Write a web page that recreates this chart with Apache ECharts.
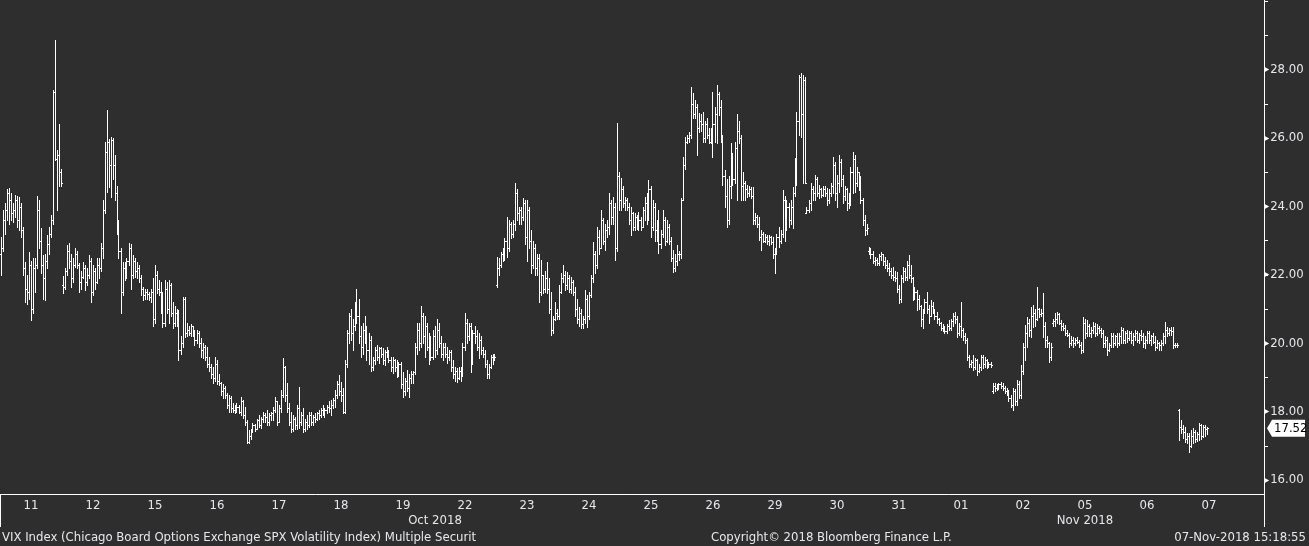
<!DOCTYPE html>
<html><head><meta charset="utf-8">
<script src="https://cdn.jsdelivr.net/npm/echarts@6.0.0/dist/echarts.min.js"></script>
<style>html,body{margin:0;padding:0;background:#2e2e2e;}#c{width:1309px;height:546px;}</style>
</head><body><div id="c"></div>
<script>
// ---- data ----
const dayLabels = ['11','12','15','16','17','18','19','22','23','24','25','26','29','30','31','01','02','05','06','07'];
const monthLabels = ['Oct 2018','Nov 2018'];
const yLabelValues = [16,18,20,22,24,26,28];
const yTickValues = [16,17,18,19,20,21,22,23,24,25,26,27,28,29,30];
const lastPrice = 17.52;
const titleText = 'VIX Index (Chicago Board Options Exchange SPX Volatility Index) Multiple Securit';
const copyrightText = 'Copyright\u00a9 2018 Bloomberg Finance L.P.';
const stampText = '07-Nov-2018 15:18:55';
// [open, high, low, close], 31 bars per trading day
const ohlc = [
// Oct 11
[22.6,23.1,22.0,22.8],[22.8,23.9,22.7,23.6],[23.6,24.1,23.2,23.9],[23.9,24.5,23.6,24.4],[24.4,24.55,23.5,24.2],[24.2,24.4,23.6,23.8],[23.8,24.1,23.55,23.9],[23.9,24.35,23.7,24.2],[24.2,24.3,23.4,23.6],[23.6,24.28,23.3,24.0],[24.0,24.1,23.1,23.3],[23.3,23.4,22.0,22.2],[22.2,22.37,21.2,21.6],[21.6,22.0,21.15,21.5],[21.5,22.67,21.3,22.3],[22.3,22.4,20.68,21.0],[21.0,22.5,20.9,22.2],[22.2,22.5,21.5,22.3],[22.3,24.3,22.2,23.9],[23.9,24.2,22.8,23.0],[23.0,23.37,22.05,22.3],[22.3,22.58,21.3,21.9],[21.9,22.6,21.27,22.4],[22.4,23.17,22.2,22.9],[22.9,23.4,22.6,23.2],[23.2,23.75,23.1,23.6],[23.6,27.4,23.5,27.35],[27.35,28.87,25.36,25.4],[25.4,25.65,23.9,25.5],[25.5,26.4,24.6,25.0],[25.0,25.1,24.6,24.7],
// Oct 12
[21.7,21.97,21.47,21.65],[21.65,22.2,21.6,22.1],[22.1,22.87,22.0,22.7],[22.7,22.93,22.2,22.4],[22.4,22.6,21.65,21.9],[21.9,22.5,21.8,22.3],[22.3,22.79,22.23,22.6],[22.6,22.7,22.2,22.3],[22.3,22.35,21.5,21.8],[21.8,22.1,21.6,21.95],[21.95,22.37,21.9,22.2],[22.2,22.3,21.56,21.8],[21.8,22.2,21.7,22.0],[22.0,22.58,21.9,22.4],[22.4,22.5,21.2,21.5],[21.5,22.3,21.4,22.1],[22.1,22.2,21.6,21.8],[21.8,22.49,21.76,22.3],[22.3,22.5,21.9,22.2],[22.2,22.93,22.1,22.8],[22.8,24.2,22.5,23.9],[23.9,25.9,23.8,25.6],[25.6,26.82,24.42,25.9],[25.9,25.97,24.57,25.2],[25.2,26.03,24.28,25.95],[25.95,26.0,24.8,25.2],[25.2,25.5,24.2,24.4],[24.4,24.6,23.2,23.5],[23.5,23.6,22.5,22.7],[22.7,22.8,20.9,21.5],[21.5,22.37,21.4,22.2],
// Oct 15
[22.2,22.37,21.85,22.0],[22.0,22.5,21.9,22.4],[22.4,22.93,22.3,22.8],[22.8,22.9,21.6,22.0],[22.0,22.58,21.9,22.4],[22.4,22.5,21.94,22.1],[22.1,22.37,21.9,22.2],[22.2,22.3,21.8,21.9],[21.9,22.0,21.4,21.6],[21.6,21.65,21.27,21.4],[21.4,21.6,21.3,21.5],[21.5,21.6,21.3,21.45],[21.45,21.5,21.27,21.35],[21.35,21.6,21.2,21.5],[21.5,21.9,20.5,20.7],[20.7,22.29,20.6,22.0],[22.0,22.1,21.47,21.6],[21.6,21.85,21.4,21.5],[21.5,21.8,20.9,21.1],[21.1,21.5,20.47,20.6],[20.6,21.85,20.5,21.6],[21.6,21.8,20.9,21.0],[21.0,21.85,20.6,21.7],[21.7,21.75,20.8,20.9],[20.9,21.2,20.45,20.6],[20.6,21.1,20.5,20.9],[20.9,21.0,20.5,20.6],[20.6,20.97,19.5,19.8],[19.8,20.2,19.7,20.0],[20.0,21.36,19.9,21.3],[21.3,21.35,20.18,20.3],
// Oct 16
[20.3,20.6,20.2,20.4],[20.4,20.5,20.25,20.3],[20.3,20.55,20.2,20.5],[20.5,20.5,20.2,20.3],[20.3,20.4,19.95,20.1],[20.1,20.39,20.0,20.3],[20.3,20.35,19.9,20.0],[20.0,20.15,19.6,19.8],[19.8,20.0,19.57,19.9],[19.9,19.95,19.5,19.6],[19.6,19.9,19.3,19.4],[19.4,19.6,19.2,19.3],[19.3,19.4,19.0,19.1],[19.1,19.3,18.85,19.0],[19.0,19.6,18.9,19.4],[19.4,19.5,18.8,18.9],[18.9,19.1,18.78,18.85],[18.85,18.87,18.5,18.6],[18.6,18.8,18.4,18.7],[18.7,18.75,18.4,18.5],[18.5,18.55,18.1,18.2],[18.2,18.5,18.0,18.4],[18.4,18.45,17.99,18.1],[18.1,18.25,17.98,18.05],[18.05,18.2,17.96,18.1],[18.1,18.25,18.0,18.15],[18.15,18.2,17.96,18.0],[18.0,18.43,17.9,18.3],[18.3,18.35,17.82,17.9],[17.9,18.14,17.6,17.7],[17.7,17.75,17.08,17.1],
// Oct 17
[17.1,17.47,17.08,17.3],[17.3,17.5,17.2,17.45],[17.45,17.67,17.41,17.6],[17.6,17.65,17.45,17.5],[17.5,17.8,17.5,17.75],[17.75,17.9,17.55,17.6],[17.6,17.85,17.52,17.8],[17.8,17.99,17.7,17.9],[17.9,17.95,17.7,17.85],[17.85,18.05,17.6,17.7],[17.7,17.95,17.6,17.9],[17.9,18.0,17.75,17.95],[17.95,18.14,17.76,18.05],[18.05,18.43,17.99,18.3],[18.3,18.3,17.6,17.7],[17.7,18.2,17.7,18.1],[18.1,18.63,18.0,18.5],[18.5,19.57,18.43,19.3],[19.3,19.35,18.3,18.5],[18.5,18.84,17.99,18.1],[18.1,18.25,17.6,17.7],[17.7,18.0,17.41,17.5],[17.5,17.9,17.45,17.8],[17.8,17.85,17.5,17.6],[17.6,18.2,17.5,18.1],[18.1,18.72,17.52,17.7],[17.7,18.0,17.6,17.9],[17.9,18.1,17.4,17.5],[17.5,17.8,17.45,17.7],[17.7,17.9,17.5,17.6],[17.6,18.0,17.55,17.9],
// Oct 18
[17.9,18.0,17.6,17.7],[17.7,17.9,17.6,17.85],[17.85,17.95,17.7,17.8],[17.8,18.0,17.75,17.95],[17.95,18.05,17.8,17.9],[17.9,18.1,17.85,18.05],[18.05,18.2,17.9,18.0],[18.0,18.1,17.85,18.05],[18.05,18.2,17.95,18.15],[18.15,18.3,18.0,18.1],[18.1,18.34,17.9,18.2],[18.2,18.4,18.1,18.35],[18.35,18.63,18.14,18.5],[18.5,18.9,18.4,18.8],[18.8,19.07,18.5,18.6],[18.6,18.87,18.3,18.5],[18.5,18.7,17.96,18.0],[18.0,19.5,17.96,19.4],[19.4,20.4,19.3,20.3],[20.3,20.9,20.0,20.8],[20.8,21.0,20.1,20.3],[20.3,20.7,19.8,20.5],[20.5,21.2,20.4,21.1],[21.1,21.6,20.6,20.8],[20.8,21.3,20.0,20.2],[20.2,20.5,19.6,19.9],[19.9,20.6,19.7,20.4],[20.4,20.8,20.0,20.2],[20.2,20.5,19.5,19.8],[19.8,20.3,19.4,20.1],[20.1,20.2,19.2,19.3],
// Oct 19
[19.3,19.6,19.22,19.5],[19.5,19.9,19.4,19.8],[19.8,19.95,19.5,19.6],[19.6,19.9,19.42,19.85],[19.85,19.9,19.6,19.7],[19.7,19.85,19.4,19.5],[19.5,19.8,19.37,19.75],[19.75,19.9,19.6,19.7],[19.7,19.8,19.45,19.5],[19.5,19.6,19.2,19.3],[19.3,19.6,19.13,19.5],[19.5,19.55,19.2,19.3],[19.3,19.5,19.02,19.1],[19.1,19.45,19.05,19.4],[19.4,19.45,18.7,18.8],[18.8,19.16,18.43,18.6],[18.6,19.0,18.5,18.9],[18.9,19.22,18.6,18.7],[18.7,19.1,18.43,19.0],[19.0,19.2,18.85,19.1],[19.1,19.2,18.84,19.15],[19.15,20.0,19.1,19.9],[19.9,20.6,19.7,20.4],[20.4,20.6,19.8,20.0],[20.0,21.1,19.9,20.8],[20.8,20.9,20.0,20.2],[20.2,20.8,19.6,20.5],[20.5,20.6,19.8,19.9],[19.9,20.3,19.4,20.1],[20.1,20.2,19.5,19.6],[19.6,20.4,19.55,20.2],
// Oct 22
[20.2,20.5,19.6,19.8],[19.8,20.7,19.7,20.4],[20.4,20.6,19.9,20.0],[20.0,20.2,19.6,19.7],[19.7,20.0,19.5,19.9],[19.9,20.0,19.6,19.7],[19.7,19.9,19.42,19.6],[19.6,19.8,19.5,19.75],[19.75,19.8,19.2,19.3],[19.3,19.5,19.0,19.1],[19.1,19.3,18.9,19.2],[19.2,19.28,18.87,19.0],[19.0,19.3,18.95,19.2],[19.2,19.3,18.9,19.1],[19.1,20.0,19.05,19.9],[19.9,20.9,19.8,20.6],[20.6,20.7,20.0,20.2],[20.2,20.6,20.1,20.5],[20.5,20.6,19.16,19.5],[19.5,20.4,19.4,20.3],[20.3,20.5,20.0,20.2],[20.2,20.4,19.8,19.9],[19.9,20.3,19.57,20.1],[20.1,20.2,19.7,19.8],[19.8,19.9,19.6,19.7],[19.7,19.8,19.3,19.4],[19.4,19.5,18.98,19.1],[19.1,19.4,19.0,19.3],[19.3,19.66,19.28,19.6],[19.6,19.7,19.4,19.65],[19.65,19.7,19.5,19.6],
// Oct 23
[21.7,22.52,21.65,22.2],[22.2,22.5,22.0,22.3],[22.3,22.67,22.23,22.6],[22.6,22.8,22.4,22.5],[22.5,23.07,22.43,23.0],[23.0,23.7,22.52,22.8],[22.8,23.6,22.7,23.5],[23.5,23.55,23.07,23.2],[23.2,23.6,23.1,23.5],[23.5,24.68,23.3,24.4],[24.4,24.5,23.6,23.8],[23.8,23.99,23.5,23.9],[23.9,24.0,23.5,23.7],[23.7,24.25,23.6,24.1],[24.1,24.2,22.9,23.1],[23.1,24.19,22.4,23.9],[23.9,24.0,22.8,23.0],[23.0,23.3,22.05,22.3],[22.3,23.0,22.2,22.8],[22.8,22.9,22.0,22.2],[22.2,22.6,22.0,22.5],[22.5,22.6,21.2,21.5],[21.5,22.43,21.4,22.0],[22.0,22.0,21.47,21.6],[21.6,22.1,21.5,21.9],[21.9,22.37,21.47,21.6],[21.6,21.9,20.9,21.0],[21.0,21.5,20.24,20.4],[20.4,20.8,20.3,20.7],[20.7,21.2,20.68,20.9],[20.9,21.0,20.7,20.8],
// Oct 24
[20.8,21.7,20.7,21.5],[21.5,22.05,21.47,21.9],[21.9,22.29,21.8,22.0],[22.0,22.1,21.56,21.7],[21.7,22.08,21.6,21.9],[21.9,22.0,21.5,21.6],[21.6,21.95,21.47,21.8],[21.8,21.85,21.4,21.5],[21.5,21.65,20.8,21.0],[21.0,21.3,20.6,20.7],[20.7,21.06,20.5,20.9],[20.9,21.0,20.45,20.55],[20.55,20.8,20.45,20.7],[20.7,21.56,20.6,21.3],[21.3,21.4,20.47,20.8],[20.8,21.5,20.7,21.4],[21.4,22.0,21.36,21.9],[21.9,22.96,21.8,22.6],[22.6,22.7,22.05,22.3],[22.3,23.4,22.2,23.1],[23.1,23.3,22.6,22.8],[22.8,23.9,22.79,23.6],[23.6,23.66,22.9,23.0],[23.0,23.5,22.73,23.3],[23.3,23.6,23.1,23.4],[23.4,24.4,23.2,24.1],[24.1,24.2,23.5,23.7],[23.7,24.28,23.5,24.0],[24.0,24.1,22.43,22.8],[22.8,26.44,22.7,24.9],[24.9,25.0,23.9,24.2],
// Oct 25
[24.2,24.83,23.9,24.5],[24.5,24.6,24.0,24.1],[24.1,24.28,23.9,24.2],[24.2,24.25,23.9,24.0],[24.0,24.1,23.5,23.6],[23.6,24.0,23.17,23.8],[23.8,23.85,23.3,23.4],[23.4,23.8,23.31,23.7],[23.7,23.75,23.35,23.5],[23.5,23.84,23.3,23.6],[23.6,23.7,23.3,23.4],[23.4,24.0,23.4,23.9],[23.9,24.28,23.6,24.1],[24.1,24.4,23.5,23.7],[23.7,24.77,23.6,24.5],[24.5,24.6,23.1,23.4],[23.4,24.19,23.3,24.0],[24.0,24.1,23.0,23.3],[23.3,23.6,23.0,23.5],[23.5,23.9,22.64,22.9],[22.9,23.3,22.8,23.2],[23.2,23.9,23.1,23.6],[23.6,23.7,22.87,23.0],[23.0,23.6,22.96,23.4],[23.4,23.5,22.9,23.0],[23.0,23.1,22.4,22.5],[22.5,22.73,22.08,22.2],[22.2,22.6,22.1,22.4],[22.4,22.87,22.3,22.6],[22.6,22.7,22.43,22.6],[22.6,24.25,22.5,24.2],
// Oct 26
[24.2,25.45,24.2,25.2],[25.2,26.03,25.1,25.9],[25.9,26.1,25.85,26.0],[26.0,26.17,25.89,26.1],[26.1,27.5,26.0,27.0],[27.0,27.32,26.6,26.7],[26.7,27.1,26.59,26.9],[26.9,27.0,25.5,26.3],[26.3,26.73,26.17,26.5],[26.5,26.7,26.2,26.4],[26.4,26.76,25.9,26.0],[26.0,26.5,25.89,26.4],[26.4,26.6,26.0,26.1],[26.1,26.3,25.85,25.9],[25.9,26.3,25.85,26.2],[26.2,27.35,25.45,26.4],[26.4,26.9,25.9,26.7],[26.7,27.55,25.85,27.3],[27.3,27.35,26.68,26.9],[26.9,27.1,25.9,26.0],[26.0,26.1,24.63,24.9],[24.9,25.07,24.0,24.3],[24.3,24.8,23.4,23.6],[23.6,24.9,23.5,24.6],[24.6,25.85,24.25,25.4],[25.4,25.56,24.63,24.8],[24.8,25.9,24.7,25.7],[25.7,26.7,24.19,26.2],[26.2,26.5,25.85,26.0],[26.0,26.1,24.19,24.6],[24.6,25.0,24.2,24.7],
// Oct 29
[24.7,24.75,24.2,24.5],[24.5,24.63,24.28,24.4],[24.4,24.6,24.3,24.5],[24.5,24.57,24.25,24.3],[24.3,24.57,23.5,23.6],[23.6,23.8,23.5,23.7],[23.7,23.75,23.4,23.5],[23.5,23.7,23.02,23.1],[23.1,23.3,22.73,23.2],[23.2,23.25,22.96,23.0],[23.0,23.2,22.96,23.1],[23.1,23.17,22.9,23.0],[23.0,23.17,22.87,23.1],[23.1,23.15,22.9,22.95],[22.95,23.1,22.5,22.6],[22.6,22.8,22.05,22.7],[22.7,23.2,22.6,23.1],[23.1,23.4,22.82,23.0],[23.0,23.3,22.93,23.2],[23.2,24.48,23.1,24.2],[24.2,24.3,23.0,23.3],[23.3,24.19,23.3,24.0],[24.0,24.1,23.4,23.6],[23.6,24.2,23.5,24.0],[24.0,24.57,23.37,24.4],[24.4,25.42,24.3,25.2],[25.2,26.76,24.63,26.5],[26.5,27.84,26.1,27.8],[27.8,27.9,26.03,26.7],[26.7,27.84,24.68,27.7],[27.7,27.8,24.7,24.7],
// Oct 30
[23.8,24.0,23.8,23.9],[23.9,24.19,23.84,24.1],[24.1,24.68,23.9,24.5],[24.5,24.6,24.2,24.4],[24.4,24.92,24.19,24.8],[24.8,24.85,24.3,24.4],[24.4,24.63,24.25,24.5],[24.5,24.54,24.28,24.35],[24.35,24.6,24.3,24.5],[24.5,24.6,24.3,24.4],[24.4,24.54,24.04,24.2],[24.2,24.5,24.1,24.4],[24.4,24.7,24.3,24.6],[24.6,25.45,24.4,25.2],[25.2,25.3,24.2,24.4],[24.4,24.92,23.99,24.7],[24.7,25.5,24.42,25.3],[25.3,25.4,24.6,24.8],[24.8,24.92,24.1,24.3],[24.3,24.6,24.2,24.5],[24.5,24.54,23.9,24.1],[24.1,24.4,23.95,24.3],[24.3,25.16,24.04,25.0],[25.0,25.6,24.4,25.4],[25.4,25.5,24.42,24.7],[24.7,25.16,24.6,25.0],[25.0,25.0,24.48,24.8],[24.8,24.9,24.1,24.2],[24.2,24.25,23.46,23.6],[23.6,23.75,23.17,23.3],[23.3,23.5,23.2,23.37],
// Oct 31
[22.7,22.82,22.6,22.7],[22.7,22.79,22.5,22.6],[22.6,22.7,22.35,22.4],[22.4,22.52,22.3,22.45],[22.45,22.5,22.29,22.35],[22.35,22.6,22.3,22.55],[22.55,22.67,22.43,22.6],[22.6,22.6,22.3,22.4],[22.4,22.52,22.2,22.3],[22.3,22.43,22.1,22.2],[22.2,22.35,22.0,22.1],[22.1,22.2,21.9,22.0],[22.0,22.23,21.85,21.95],[21.95,22.1,21.82,21.9],[21.9,22.08,21.5,21.6],[21.6,21.7,21.18,21.3],[21.3,22.0,21.2,21.9],[21.9,22.23,21.8,22.1],[22.1,22.2,21.85,21.95],[21.95,22.4,21.85,22.3],[22.3,22.58,21.9,22.0],[22.0,22.29,21.8,21.9],[21.9,21.95,21.27,21.4],[21.4,21.65,21.3,21.5],[21.5,21.56,20.97,21.3],[21.3,21.4,21.0,21.1],[21.1,21.12,20.5,20.7],[20.7,21.0,20.45,20.9],[20.9,21.3,20.88,21.2],[21.2,21.5,20.9,21.0],[21.0,21.12,20.6,20.8],
// Nov 01
[20.8,21.27,20.8,21.1],[21.1,21.2,20.88,20.95],[20.95,21.0,20.7,20.8],[20.8,20.92,20.6,20.7],[20.7,20.75,20.54,20.6],[20.6,20.62,20.4,20.45],[20.45,20.55,20.35,20.4],[20.4,20.5,20.3,20.35],[20.35,20.55,20.3,20.5],[20.5,20.68,20.39,20.45],[20.45,20.7,20.4,20.65],[20.65,20.88,20.5,20.8],[20.8,20.92,20.6,20.7],[20.7,20.8,20.18,20.3],[20.3,20.6,20.25,20.5],[20.5,21.2,20.18,20.4],[20.4,20.45,20.1,20.2],[20.2,20.3,20.0,20.1],[20.1,20.15,19.5,19.6],[19.6,19.66,19.3,19.4],[19.4,19.5,19.3,19.45],[19.45,19.66,19.22,19.3],[19.3,19.57,19.25,19.5],[19.5,19.55,19.07,19.2],[19.2,19.4,19.15,19.3],[19.3,19.66,19.22,19.6],[19.6,19.65,19.28,19.4],[19.4,19.6,19.3,19.5],[19.5,19.55,19.28,19.3],[19.3,19.45,19.3,19.4],[19.4,19.45,19.3,19.38],
// Nov 02
[18.6,18.84,18.55,18.75],[18.75,18.84,18.6,18.7],[18.7,18.8,18.63,18.75],[18.75,18.84,18.65,18.8],[18.8,18.87,18.7,18.75],[18.75,18.85,18.63,18.7],[18.7,18.75,18.55,18.6],[18.6,18.7,18.5,18.55],[18.55,18.63,18.3,18.4],[18.4,18.5,18.14,18.2],[18.2,18.7,18.05,18.6],[18.6,18.65,18.2,18.3],[18.3,18.93,18.2,18.8],[18.8,18.9,18.4,18.5],[18.5,19.37,18.4,19.2],[19.2,20.0,19.1,19.9],[19.9,20.53,19.5,20.3],[20.3,20.77,19.9,20.6],[20.6,20.7,20.2,20.4],[20.4,21.06,20.18,20.8],[20.8,21.12,20.47,20.9],[20.9,21.0,20.5,20.7],[20.7,21.65,20.68,21.0],[21.0,21.03,20.77,20.85],[20.85,21.0,20.8,20.9],[20.9,21.47,20.18,20.5],[20.5,20.62,19.9,20.1],[20.1,20.2,19.9,20.0],[20.0,20.04,19.45,19.6],[19.6,20.0,19.5,19.9],[20.6,20.7,20.5,20.65],
// Nov 05
[20.65,20.88,20.5,20.7],[20.7,20.92,20.6,20.85],[20.85,20.9,20.55,20.6],[20.6,20.68,20.4,20.5],[20.5,20.6,20.39,20.45],[20.45,20.53,20.24,20.3],[20.3,20.4,20.2,20.25],[20.25,20.3,19.9,20.0],[20.0,20.2,19.95,20.1],[20.1,20.18,19.9,20.0],[20.0,20.15,19.95,20.1],[20.1,20.18,20.0,20.05],[20.05,20.1,19.9,19.95],[19.95,20.04,19.71,19.8],[19.8,20.77,19.75,20.6],[20.6,20.7,20.15,20.3],[20.3,20.68,20.2,20.5],[20.5,20.55,20.2,20.3],[20.3,20.47,20.18,20.4],[20.4,20.62,20.3,20.5],[20.5,20.6,20.2,20.3],[20.3,20.55,20.25,20.45],[20.45,20.5,20.3,20.4],[20.4,20.45,20.18,20.3],[20.3,20.39,19.9,20.0],[20.0,20.2,19.9,20.1],[20.1,20.18,19.66,19.8],[19.8,20.0,19.78,19.95],[19.95,20.3,19.9,20.2],[20.2,20.3,19.9,20.0],[20.0,20.25,19.95,20.2],
// Nov 06
[20.2,20.3,19.9,20.0],[20.0,20.3,19.95,20.2],[20.2,20.47,20.0,20.4],[20.4,20.45,20.0,20.1],[20.1,20.35,20.0,20.3],[20.3,20.4,20.05,20.15],[20.15,20.35,20.1,20.3],[20.3,20.35,20.0,20.1],[20.1,20.3,19.95,20.2],[20.2,20.4,20.1,20.3],[20.3,20.35,20.05,20.1],[20.1,20.3,20.0,20.25],[20.25,20.4,20.1,20.2],[20.2,20.3,19.9,20.0],[20.0,20.2,19.85,20.1],[20.1,20.35,20.0,20.3],[20.3,20.35,20.0,20.1],[20.1,20.25,19.95,20.2],[20.2,20.3,20.0,20.05],[20.05,20.2,19.8,19.9],[19.9,20.1,19.85,20.0],[20.0,20.05,19.8,19.95],[19.95,20.1,19.8,20.0],[20.0,20.3,19.95,20.2],[20.2,20.62,20.0,20.4],[20.4,20.47,20.2,20.3],[20.3,20.45,20.24,20.4],[20.4,20.47,20.25,20.35],[20.35,20.47,19.86,19.95],[19.95,20.0,19.9,19.95],[19.95,20.0,19.9,19.95],
// Nov 07 (partial day)
[18.05,18.08,17.17,17.56],[17.56,17.76,17.38,17.5],[17.5,17.62,17.23,17.4],[17.4,17.56,17.12,17.2],[17.2,17.38,17.08,17.3],[17.3,17.38,16.82,17.0],[17.0,17.47,16.97,17.3],[17.3,17.53,17.08,17.4],[17.4,17.47,17.12,17.2],[17.2,17.4,17.15,17.35],[17.35,17.67,17.17,17.6],[17.6,17.65,17.2,17.3],[17.3,17.6,17.25,17.56],[17.56,17.6,17.3,17.5],[17.5,17.56,17.35,17.52]
];
const barsPerDay = 31;
const totalSlots = 632;
const monthLabelSlots = [217, 542];
const monthBoundarySlot = 465;

// ---- chart ----
const FONT = "'DejaVu Sans Condensed','Liberation Sans',sans-serif";
const TXT = '#e6e8ec';
const slots = Array.from({length: totalSlots}, (_, i) => String(i));
const seriesData = ohlc.map((b, i) => [i, b[0], b[1], b[2], b[3]]);

const chart = echarts.init(document.getElementById('c'), null, {renderer: 'canvas'});
chart.setOption({
  backgroundColor: '#2e2e2e',
  animation: false,
  textStyle: {fontFamily: FONT},
  grid: {left: 0, right: 45, top: 0, bottom: 52, containLabel: false},
  xAxis: [{
    type: 'category', data: slots, boundaryGap: true, position: 'bottom',
    axisLine: {show: true, lineStyle: {color: '#ffffff', width: 1}},
    axisTick: {show: false},
    splitLine: {show: false},
    axisLabel: {
      interval: (i) => i % barsPerDay === 15 && Math.floor(i / barsPerDay) < dayLabels.length,
      formatter: (v, i) => dayLabels[Math.floor(Number(v) / barsPerDay)],
      color: TXT, fontSize: 13, fontFamily: FONT, margin: 5
    }
  }, {
    type: 'category', data: slots, boundaryGap: true, position: 'bottom',
    axisLine: {show: false},
    axisTick: {show: true, interval: (i) => i === monthBoundarySlot, length: 33, lineStyle: {color: '#ffffff', width: 1}},
    splitLine: {show: false},
    axisLabel: {
      interval: (i) => monthLabelSlots.indexOf(i) >= 0,
      formatter: (v) => monthLabels[monthLabelSlots.indexOf(Number(v))],
      color: TXT, fontSize: 13, fontFamily: FONT, margin: 20
    }
  }],
  yAxis: {
    type: 'value', position: 'right', min: 15.594, max: 30.038,
    axisLine: {show: true, lineStyle: {color: '#ffffff', width: 1}},
    axisTick: {show: true, customValues: yTickValues, length: 4, lineStyle: {color: '#ffffff'}},
    splitLine: {show: false},
    axisLabel: {
      customValues: yLabelValues, margin: 1, color: TXT, fontSize: 13, fontFamily: FONT,
      formatter: (v) => '{a|\u25B6}' + Number(v).toFixed(2),
      rich: {a: {color: '#ffffff', fontSize: 6, padding: [0, 1, 0, 0]}}
    }
  },
  series: [{
    type: 'custom',
    data: seriesData,
    encode: {x: 0, y: [1, 2, 3, 4]},
    renderItem: function (params, api) {
      const idx = api.value(0);
      const pO = api.coord([idx, api.value(1)]);
      const yH = Math.round(api.coord([idx, api.value(2)])[1]);
      const yL = Math.round(api.coord([idx, api.value(3)])[1]);
      const yC = Math.round(api.coord([idx, api.value(4)])[1]);
      const x = Math.floor(pO[0]);
      const yO = Math.round(pO[1]);
      const top = Math.min(yH, yO, yC), bot = Math.max(yL, yO, yC);
      const st = {fill: '#ffffff'};
      return {type: 'group', children: [
        {type: 'rect', shape: {x: x, y: top, width: 1, height: Math.max(1, bot - top + 1)}, style: st},
        {type: 'rect', shape: {x: x - 1, y: yO, width: 1, height: 1}, style: st},
        {type: 'rect', shape: {x: x + 1, y: yC, width: 1, height: 1}, style: st}
      ]};
    }
  }]
});

// last-price tag on the value axis, positioned through the chart's own scales
const yTag = chart.convertToPixel({yAxisIndex: 0}, lastPrice);
const xAxisEnd = chart.convertToPixel({xAxisIndex: 0}, totalSlots - 1) + 1;
chart.setOption({
  graphic: [
    {type: 'polygon', silent: true, shape: {points: [
      [xAxisEnd + 3, yTag], [xAxisEnd + 8, yTag - 8.5], [xAxisEnd + 41, yTag - 8.5],
      [xAxisEnd + 41, yTag + 8.5], [xAxisEnd + 8, yTag + 8.5]]},
      style: {fill: '#ffffff', stroke: '#000000', lineWidth: 0}},
    {type: 'text', silent: true, x: xAxisEnd + 10, y: yTag,
      style: {text: lastPrice.toFixed(2), fill: '#000000', font: '13px ' + FONT, textVerticalAlign: 'middle', verticalAlign: 'middle'}},
    {type: 'text', silent: true, left: 2, top: 531,
      style: {text: titleText, fill: TXT, font: '13px ' + FONT}},
    {type: 'text', silent: true, left: 711, top: 531,
      style: {text: copyrightText, fill: TXT, font: '13px ' + FONT}},
    {type: 'text', silent: true, right: 3, top: 531,
      style: {text: stampText, fill: TXT, font: '13px ' + FONT}}
  ]
});
</script></body></html>
